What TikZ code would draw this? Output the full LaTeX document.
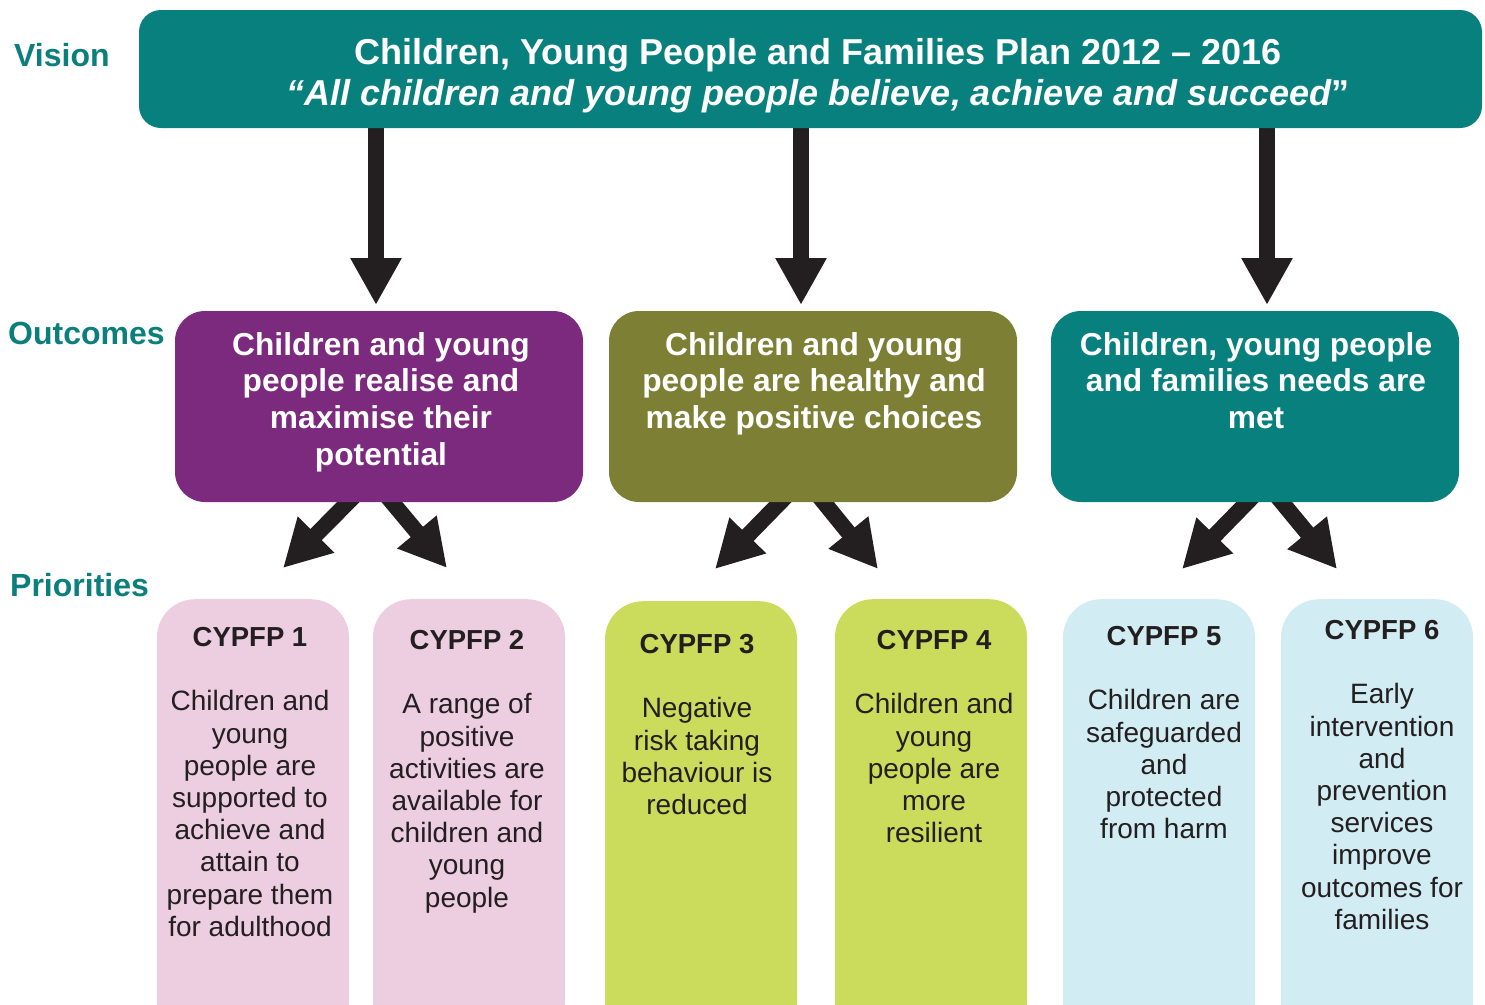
\documentclass[tikz,border=0pt]{standalone}
\usepackage{fontspec}
\setmainfont{Liberation Sans}
\usetikzlibrary{arrows.meta,calc,backgrounds}
\definecolor{planteal}{HTML}{08807D}
\definecolor{labelteal}{HTML}{0A7F7B}
\definecolor{outpurple}{HTML}{7B2A7E}
\definecolor{outolive}{HTML}{7D8034}
\definecolor{priopink}{HTML}{EDCDE0}
\definecolor{priolime}{HTML}{CBDB5B}
\definecolor{prioblue}{HTML}{D1ECF2}
\definecolor{arrowblack}{HTML}{231F20}
\newcommand\priotitle[1]{{\fontsize{27.5}{32.2}\selectfont\bfseries CYPFP #1}\\[32.2pt]}
\begin{document}
\begin{tikzpicture}[x=1pt,y=-1pt,
    label node/.style={anchor=west,inner sep=0pt,text=labelteal,font=\fontsize{32}{37}\selectfont\bfseries},
    outcome node/.style={rounded corners=30pt,minimum width=408pt,minimum height=191pt,inner sep=0pt},
    outcome text/.style={anchor=north,inner sep=0pt,align=center,text=white,font=\fontsize{31.7}{36.7}\selectfont\bfseries},
    priority node/.style={anchor=north,rounded corners=38pt,minimum width=192pt,minimum height=440pt,inner sep=0pt},
    priority text/.style={anchor=north,inner sep=0pt,align=center,text=arrowblack,font=\fontsize{28}{32.2}\selectfont},
    big arrow/.style={draw=arrowblack,line width=16pt,-{Triangle[width=48pt,length=47pt]}}]
  \useasboundingbox (0,0) rectangle (1485,1004);
  \clip (0,0) rectangle (1485,1004);

  % row labels
  \node[label node] (vlabel) at (14,55) {Vision};
  \node[label node] (olabel) at (8,333) {Outcomes};
  \node[label node] (plabel) at (10,585) {Priorities};

  % vision
  \node[fill=planteal,rounded corners=22pt,minimum width=1343pt,minimum height=118pt] (vision) at (810.5,69) {};
  \node[anchor=north,inner sep=0pt,align=center,text=white,font=\fontsize{36}{41}\selectfont\bfseries] (vtext) at (818,38)
    {Children, Young People and Families Plan 2012 – 2016\\{\itshape “All children and young people believe, achieve and succeed}”};

  % outcomes
  \node[outcome node,fill=outpurple] (out1) at (379,406.5) {};
  \node[outcome node,fill=outolive] (out2) at (813,406.5) {};
  \node[outcome node,fill=planteal] (out3) at (1255,406.5) {};
  \node[outcome text] (otext1) at (381,332) {Children and young\\people realise and\\maximise their\\potential};
  \node[outcome text] (otext2) at (814,332) {Children and young\\people are healthy and\\make positive choices};
  \node[outcome text] (otext3) at (1256,332) {Children, young people\\and families needs are\\met};

  % priorities
  \node[priority node,fill=priopink] (p1) at (253,599) {};
  \node[priority node,fill=priopink] (p2) at (469,599) {};
  \node[priority node,fill=priolime] (p3) at (701,601) {};
  \node[priority node,fill=priolime] (p4) at (931,599) {};
  \node[priority node,fill=prioblue] (p5) at (1159,599) {};
  \node[priority node,fill=prioblue] (p6) at (1377,599) {};
  \node[priority text] (ptext1) at (250,627) {\priotitle{1}Children and\\young\\people are\\supported to\\achieve and\\attain to\\prepare them\\for adulthood};
  \node[priority text] (ptext2) at (467,630) {\priotitle{2}A range of\\positive\\activities are\\available for\\children and\\young\\people};
  \node[priority text] (ptext3) at (697,634) {\priotitle{3}Negative\\risk taking\\behaviour is\\reduced};
  \node[priority text] (ptext4) at (934,630) {\priotitle{4}Children and\\young\\people are\\more\\resilient};
  \node[priority text] (ptext5) at (1164,626) {\priotitle{5}Children are\\safeguarded\\and\\protected\\from harm};
  \node[priority text] (ptext6) at (1382,620) {\priotitle{6}Early\\intervention\\and\\prevention\\services\\improve\\outcomes for\\families};

  % arrow tips
  \coordinate (t1) at (376,305);
  \coordinate (t2) at (801,305);
  \coordinate (t3) at (1267,305);
  \coordinate (d1) at (283,568);
  \coordinate (d2) at (447,568);
  \coordinate (d3) at (715,569);
  \coordinate (d4) at (878,569);
  \coordinate (d5) at (1182,569);
  \coordinate (d6) at (1337,569);

  \begin{scope}[on background layer]
    \draw[big arrow] ($(vision.south -| t1)+(0,-6)$) -- (t1);
    \draw[big arrow] ($(vision.south -| t2)+(0,-6)$) -- (t2);
    \draw[big arrow] ($(vision.south -| t3)+(0,-6)$) -- (t3);
    \draw[big arrow] ($(out1.south)+(-19,-12)$) -- (d1);
    \draw[big arrow] ($(out1.south)+(3,-12)$) -- (d2);
    \draw[big arrow] ($(out2.south)+(-21,-12)$) -- (d3);
    \draw[big arrow] ($(out2.south)+(1,-12)$) -- (d4);
    \draw[big arrow] ($(out3.south)+(4,-12)$) -- (d5);
    \draw[big arrow] ($(out3.south)+(17,-12)$) -- (d6);
  \end{scope}
\end{tikzpicture}
\end{document}
